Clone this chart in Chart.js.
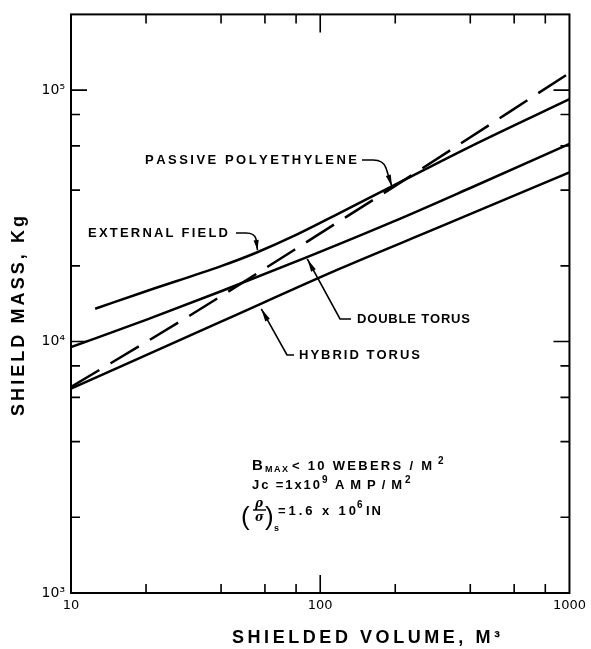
<!DOCTYPE html>
<html><head><meta charset="utf-8">
<script src="https://cdn.jsdelivr.net/npm/chart.js@4.4.0/dist/chart.umd.min.js"></script>
<style>html,body{margin:0;padding:0;background:#fff;}#wrap{width:591px;height:649px;}</style>
</head><body><div id="wrap"><canvas id="c" width="591" height="649"></canvas></div>
<script>
// ---- data ----
const xTickValues = [10, 100, 1000];
const xTickLabels = ['10', '100', '1000'];
const yTickValues = [1000, 10000, 100000];
const yTickLabels = ['10³', '10⁴', '10⁵'];

const extFieldX = [12.5, 20, 40, 55, 80, 120, 192, 400, 1000];
const extFieldY = [13500, 15850, 19950, 22500, 26550, 32500, 41200, 59600, 92000];

const doubleTorusX = [10, 20, 40, 88, 195, 400, 1000];
const doubleTorusY = [9500, 12200, 15850, 21600, 29900, 40800, 61100];

const hybridTorusX = [10, 40, 120, 300, 1000];
const hybridTorusY = [6500, 12000, 19500, 28500, 47100];

const passiveX = [10, 30, 115, 190, 1000];
const passiveY = [6600, 12700, 29400, 40300, 117000];

const seriesNames = ['EXTERNAL FIELD', 'DOUBLE TORUS', 'HYBRID TORUS', 'PASSIVE POLYETHYLENE'];

function pts(xs, ys) { return xs.map((v, i) => ({x: v, y: ys[i]})); }

function spaced(ctx, text, x, y, width) {
  const chars = [...text];
  const ws = chars.map(c => ctx.measureText(c).width);
  const tot = ws.reduce((a, b) => a + b, 0);
  const sp = chars.length > 1 ? (width - tot) / (chars.length - 1) : 0;
  let cx = x;
  chars.forEach((c, i) => { ctx.fillText(c, cx, y); cx += ws[i] + sp; });
}

function arrowHead(ctx, tx, ty, fx, fy, len, hw) {
  const dx = tx - fx, dy = ty - fy, d = Math.hypot(dx, dy);
  const ux = dx / d, uy = dy / d;
  const bx = tx - ux * len, by = ty - uy * len;
  ctx.beginPath();
  ctx.moveTo(tx, ty);
  ctx.lineTo(bx - uy * hw, by + ux * hw);
  ctx.lineTo(bx + uy * hw, by - ux * hw);
  ctx.closePath();
  ctx.fill();
}

const decor = {
  id: 'decor',
  afterDraw(chart) {
    const {ctx, chartArea: a, scales: {x, y}} = chart;
    ctx.save();
    ctx.strokeStyle = '#000';
    ctx.fillStyle = '#000';
    ctx.lineCap = 'butt';
    // frame
    ctx.lineWidth = 2;
    ctx.strokeRect(a.left, a.top, a.right - a.left, a.bottom - a.top);
    // inward ticks
    ctx.lineWidth = 1.6;
    const mult = [2, 4, 6, 8];
    const tickX = (v, len) => {
      const px = x.getPixelForValue(v);
      ctx.beginPath();
      ctx.moveTo(px, a.bottom); ctx.lineTo(px, a.bottom - len);
      ctx.moveTo(px, a.top); ctx.lineTo(px, a.top + len);
      ctx.stroke();
    };
    const tickY = (v, len) => {
      const py = y.getPixelForValue(v);
      ctx.beginPath();
      ctx.moveTo(a.left, py); ctx.lineTo(a.left + len, py);
      ctx.moveTo(a.right, py); ctx.lineTo(a.right - len, py);
      ctx.stroke();
    };
    [10, 100].forEach(d => mult.forEach(m => tickX(d * m, 9)));
    tickX(100, 18);
    [1000, 10000].forEach(d => mult.forEach(m => tickY(d * m, 9)));
    tickY(10000, 16); tickY(100000, 16);

    // axis titles
    ctx.textBaseline = 'middle';
    ctx.font = 'bold 18px "Liberation Sans"';
    spaced(ctx, 'SHIELDED VOLUME, M³', 232, 638, 268);
    ctx.save();
    ctx.translate(19, 316);
    ctx.rotate(-Math.PI / 2);
    spaced(ctx, 'SHIELD MASS, Kg', -100, 0, 200);
    ctx.restore();

    // series labels
    ctx.font = 'bold 13px "Liberation Sans"';
    spaced(ctx, seriesNames[3], 145, 160, 212);
    spaced(ctx, seriesNames[0], 88, 233, 140);
    spaced(ctx, seriesNames[1], 357, 319, 113);
    spaced(ctx, seriesNames[2], 299, 355, 121);

    ctx.lineWidth = 1.6;
    // passive polyethylene leader
    const pT = [x.getPixelForValue(194), y.getPixelForValue(41300)];
    ctx.beginPath();
    ctx.moveTo(362, 160); ctx.lineTo(373, 160);
    ctx.bezierCurveTo(380, 160, 384, 162, 386, 168);
    ctx.lineTo(pT[0], pT[1]);
    ctx.stroke();
    arrowHead(ctx, pT[0], pT[1], 386, 168, 12, 2.6);
    // external field leader
    const eT = [x.getPixelForValue(56), y.getPixelForValue(23100)];
    ctx.beginPath();
    ctx.moveTo(236, 233); ctx.lineTo(246, 233);
    ctx.bezierCurveTo(252, 233, 255, 235, 256, 239);
    ctx.lineTo(eT[0], eT[1]);
    ctx.stroke();
    arrowHead(ctx, eT[0], eT[1], 256, 239, 10, 2.6);
    // double torus leader
    const dT = [x.getPixelForValue(88.7), y.getPixelForValue(21300)];
    ctx.beginPath();
    ctx.moveTo(dT[0], dT[1]); ctx.lineTo(340, 319); ctx.lineTo(351, 319);
    ctx.stroke();
    arrowHead(ctx, dT[0], dT[1], 340, 319, 13, 2.6);
    // hybrid torus leader
    const hT = [x.getPixelForValue(58), y.getPixelForValue(13500)];
    ctx.beginPath();
    ctx.moveTo(hT[0], hT[1]); ctx.lineTo(287, 355); ctx.lineTo(294, 355);
    ctx.stroke();
    arrowHead(ctx, hT[0], hT[1], 287, 355, 13, 2.6);

    // conditions text block
    ctx.textBaseline = 'alphabetic';
    ctx.font = 'bold 15px "Liberation Sans"';
    ctx.fillText('B', 252, 470);
    ctx.font = 'bold 9px "Liberation Sans"';
    spaced(ctx, 'MAX', 265, 472, 23);
    ctx.font = 'bold 13px "Liberation Sans"';
    spaced(ctx, '< 10 WEBERS / M', 292, 470, 140);
    ctx.font = 'bold 10px "Liberation Sans"';
    ctx.fillText('2', 438, 464);

    ctx.font = 'bold 13px "Liberation Sans"';
    spaced(ctx, 'Jc =1x10', 252, 489, 68);
    ctx.font = 'bold 10px "Liberation Sans"';
    ctx.fillText('9', 322, 483);
    ctx.font = 'bold 13px "Liberation Sans"';
    spaced(ctx, 'AMP/M', 335, 489, 67);
    ctx.font = 'bold 10px "Liberation Sans"';
    ctx.fillText('2', 405, 483);

    ctx.font = '26px "Liberation Sans"';
    ctx.fillText('(', 241, 525);
    ctx.fillText(')', 265, 525);
    ctx.font = 'italic bold 12px "DejaVu Serif"';
    ctx.fillText('ρ', 255, 507);
    ctx.fillText('σ', 255, 521);
    ctx.beginPath(); ctx.lineWidth = 1.4;
    ctx.moveTo(253, 510); ctx.lineTo(266, 510); ctx.stroke();
    ctx.font = 'bold 9px "Liberation Sans"';
    ctx.fillText('s', 274, 531);
    ctx.font = 'bold 13px "Liberation Sans"';
    spaced(ctx, '=1.6 x 10', 278, 515, 78);
    ctx.font = 'bold 10px "Liberation Sans"';
    ctx.fillText('6', 357, 508);
    ctx.font = 'bold 13px "Liberation Sans"';
    spaced(ctx, 'IN', 366, 515, 15);
    ctx.restore();
  }
};

const lineStyle = {borderColor: '#000', borderWidth: 2.5, pointRadius: 0, fill: false, cubicInterpolationMode: 'monotone'};

new Chart(document.getElementById('c'), {
  type: 'line',
  data: {
    datasets: [
      Object.assign({label: seriesNames[0], data: pts(extFieldX, extFieldY)}, lineStyle),
      Object.assign({label: seriesNames[1], data: pts(doubleTorusX, doubleTorusY)}, lineStyle),
      Object.assign({label: seriesNames[2], data: pts(hybridTorusX, hybridTorusY)}, lineStyle),
      Object.assign({label: seriesNames[3], data: pts(passiveX, passiveY), borderDash: [33, 13]}, lineStyle)
    ]
  },
  options: {
    responsive: false,
    animation: false,
    devicePixelRatio: 1,
    layout: {padding: {left: 0, right: 20, top: 11, bottom: 0}},
    plugins: {legend: {display: false}, tooltip: {enabled: false}},
    scales: {
      x: {
        type: 'logarithmic', min: 10, max: 1000,
        grid: {display: false, drawTicks: false}, border: {display: false},
        afterBuildTicks: s => { s.ticks = xTickValues.map(v => ({value: v})); },
        afterFit: s => { s.height = 56; },
        ticks: {
          color: '#000', padding: 5, maxRotation: 0, autoSkip: false,
          font: {family: 'DejaVu Sans', size: 13},
          callback: (v) => xTickLabels[xTickValues.indexOf(v)]
        }
      },
      y: {
        type: 'logarithmic', min: 1000, max: 200000,
        grid: {display: false, drawTicks: false}, border: {display: false},
        afterBuildTicks: s => { s.ticks = yTickValues.map(v => ({value: v})); },
        afterFit: s => { s.width = 71; },
        ticks: {
          color: '#000', padding: 6, autoSkip: false,
          font: {family: 'DejaVu Sans', size: 14},
          callback: (v) => yTickLabels[yTickValues.indexOf(v)]
        }
      }
    }
  },
  plugins: [decor]
});
</script>
</body></html>
